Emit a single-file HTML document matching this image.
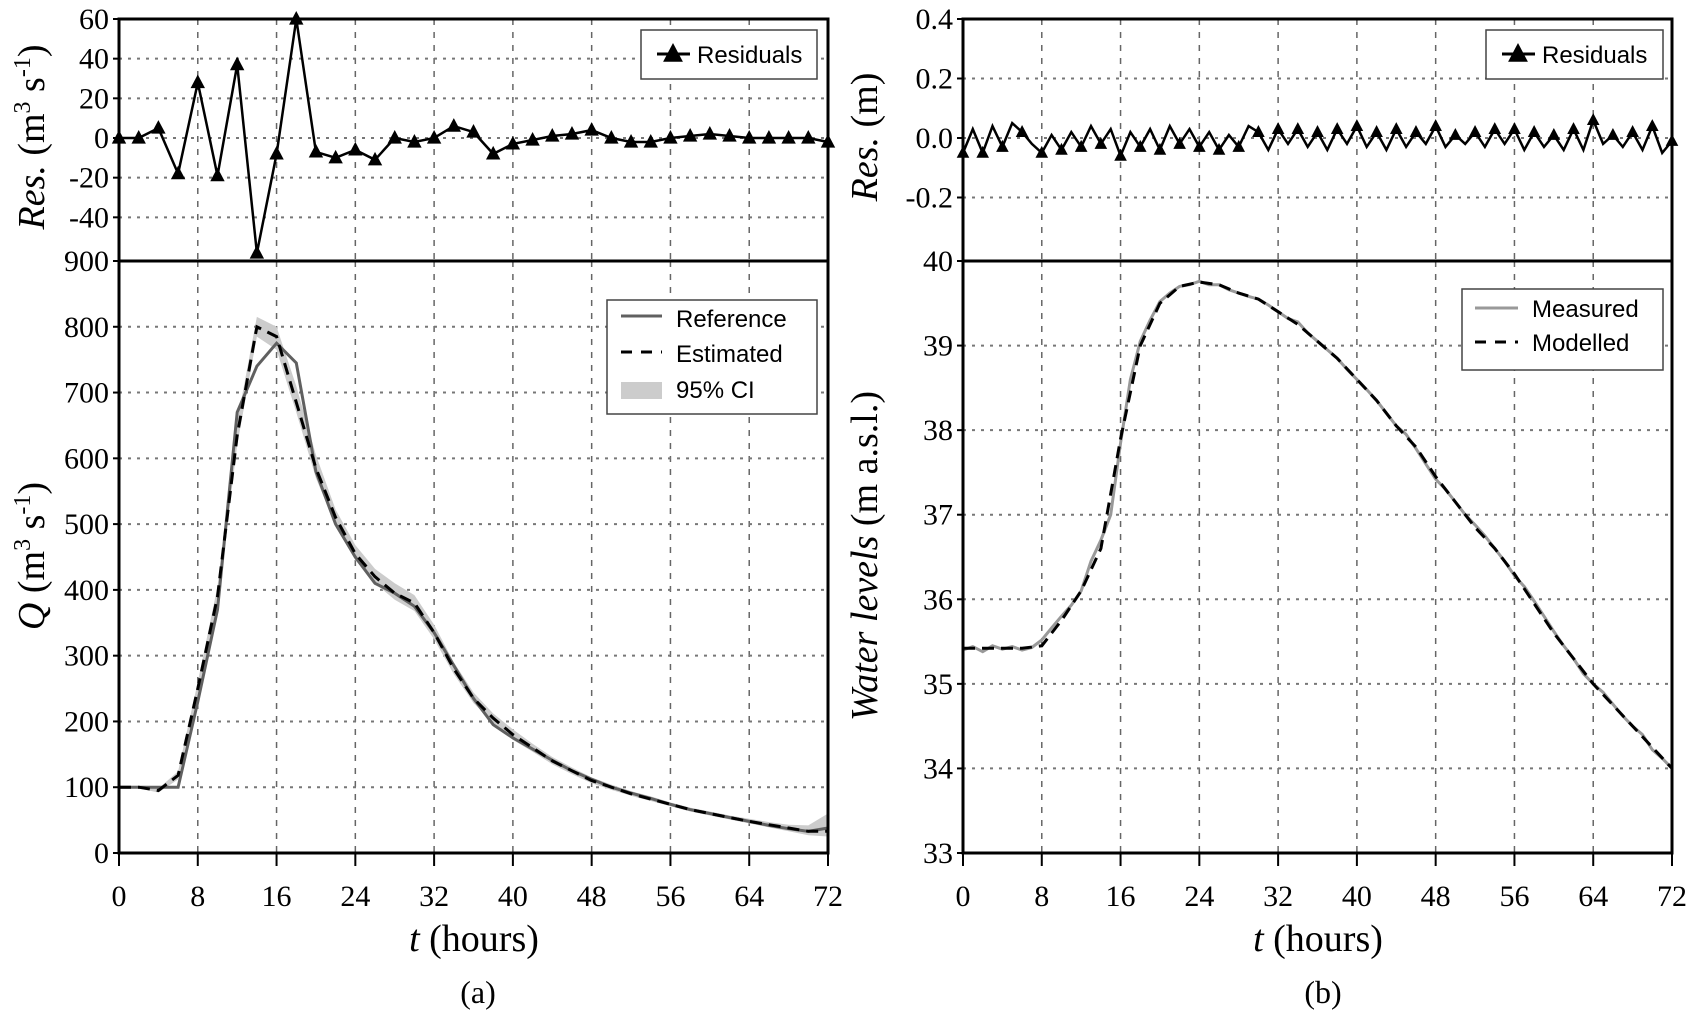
<!DOCTYPE html>
<html><head><meta charset="utf-8">
<style>
html,body{margin:0;padding:0;background:#fff;}
svg{display:block;}
text{font-family:"Liberation Serif",serif;}
.leg{font-family:"Liberation Sans",sans-serif;font-size:24px;}
</style></head>
<body>
<svg id="chart" width="1693" height="1021" viewBox="0 0 1693 1021" xmlns="http://www.w3.org/2000/svg"></svg>
<script>
// ---- Data ----
const tTicks = [0,8,16,24,32,40,48,56,64,72];
const resATicks = [60,40,20,0,-20,-40];
const qTicks = [0,100,200,300,400,500,600,700,800,900];
const resBTicks = [0.4,0.2,0.0,-0.2];
const resBTickLabels = ["0.4","0.2","0.0","-0.2"];
const wlTicks = [33,34,35,36,37,38,39,40];

const tA = [0,2,4,6,8,10,12,14,16,18,20,22,24,26,28,30,32,34,36,38,40,42,44,46,48,50,52,54,56,58,60,62,64,66,68,70,72];
const residualsA = [0,0,5,-18,28,-19,37,-58,-8,60,-7,-10,-6,-11,0,-2,0,6,3,-8,-3,-1,1,2,4,0,-2,-2,0,1,2,1,0,0,0,0,-2];
const referenceQ = [100,100,100,100,230,370,670,740,775,745,580,500,450,410,395,375,335,285,235,195,175,158,141,125,112,100,91,83,74,66,60,54,48,42,37,33,38];
const estimatedQ = [100,100,95,118,250,390,635,800,785,685,585,510,455,420,395,380,335,280,235,205,180,160,140,125,110,100,90,82,74,66,60,54,48,43,38,33,33];
const ciLow = [98,98,92,112,240,375,620,785,765,670,570,498,445,410,385,368,325,272,228,198,172,154,135,120,106,96,87,79,71,63,57,51,45,39,33,27,25];
const ciHigh = [102,102,98,124,260,405,655,815,800,710,605,522,468,432,410,392,347,290,244,212,188,166,146,130,115,104,94,86,77,69,63,57,52,47,43,42,60];

const tB = [0,1,2,3,4,5,6,7,8,9,10,11,12,13,14,15,16,17,18,19,20,21,22,23,24,25,26,27,28,29,30,31,32,33,34,35,36,37,38,39,40,41,42,43,44,45,46,47,48,49,50,51,52,53,54,55,56,57,58,59,60,61,62,63,64,65,66,67,68,69,70,71,72];
const residualsB = [-0.05,0.03,-0.05,0.04,-0.03,0.05,0.02,-0.02,-0.05,0.01,-0.04,0.02,-0.03,0.04,-0.02,0.03,-0.06,0.02,-0.03,0.03,-0.04,0.04,-0.02,0.03,-0.03,0.02,-0.04,0.01,-0.03,0.04,0.02,-0.04,0.03,-0.02,0.03,-0.03,0.02,-0.04,0.03,-0.02,0.04,-0.03,0.02,-0.04,0.03,-0.03,0.02,-0.02,0.04,-0.03,0.01,-0.02,0.02,-0.03,0.03,-0.02,0.03,-0.04,0.02,-0.03,0.01,-0.04,0.03,-0.04,0.06,-0.02,0.01,-0.03,0.02,-0.04,0.04,-0.05,-0.01];
const measuredWL = [35.40,35.44,35.38,35.45,35.41,35.44,35.40,35.43,35.52,35.66,35.80,35.93,36.10,36.45,36.70,37.00,37.85,38.60,39.05,39.30,39.52,39.62,39.70,39.72,39.76,39.72,39.72,39.66,39.62,39.58,39.55,39.48,39.40,39.32,39.28,39.15,39.05,38.95,38.85,38.72,38.60,38.48,38.35,38.20,38.05,37.95,37.78,37.60,37.42,37.30,37.15,37.00,36.88,36.75,36.60,36.45,36.28,36.15,35.98,35.80,35.62,35.45,35.30,35.12,35.00,34.90,34.76,34.62,34.50,34.40,34.22,34.12,34.00];
const modelledWL = [35.42,35.42,35.42,35.42,35.45,35.75,36.10,36.60,37.90,39.00,39.50,39.70,39.75,39.72,39.62,39.55,39.40,39.25,39.05,38.85,38.60,38.35,38.05,37.80,37.45,37.15,36.85,36.60,36.30,35.95,35.60,35.30,35.00,34.75,34.50,34.25,34.00];

// ---- helpers ----
const svg = document.getElementById('chart');
const NS = 'http://www.w3.org/2000/svg';
function mk(tag, attrs, parent){const e=document.createElementNS(NS,tag);for(const k in attrs)e.setAttribute(k,attrs[k]);(parent||svg).appendChild(e);return e;}
function lin(d0,d1,r0,r1){return v=>r0+(v-d0)*(r1-r0)/(d1-d0);}

const xA = lin(0,72,119,828), xB = lin(0,72,963,1672);
const yResA = lin(60,-60,19,257), yQ = lin(0,900,853,261);
const yResB = lin(0.4,-0.4,19,257), yWL = lin(33,40,853,261);

function grid(x, xl, xr, yTop, yBot, ySc, yt){
  tTicks.forEach(t=>{ if(t>0&&t<72){const l=mk('line',{x1:x(t),x2:x(t),y1:yTop,y2:yBot,stroke:'#666','stroke-width':1.5,'stroke-dasharray':'6,7'});
    
    }});
  yt.forEach(v=>{const y=ySc(v); if(y>yTop+2&&y<yBot-2){const l=mk('line',{x1:xl,x2:xr,y1:y,y2:y,stroke:'#777','stroke-width':2,'stroke-dasharray':'3,6'});
    
    }});
}
function frame(xl,xr,yt,yb,name){const r=mk('rect',{x:xl,y:yt,width:xr-xl,height:yb-yt,fill:'none',stroke:'#000','stroke-width':3});
  
  }
function yLabels(xl, ySc, vals, labels, name){
  vals.forEach((v,i)=>{const t=mk('text',{x:xl-10,y:ySc(v)+10,'text-anchor':'end','font-size':30});t.textContent=labels?labels[i]:String(v);
    
    
    const tk=mk('line',{x1:xl-6,x2:xl,y1:ySc(v),y2:ySc(v),stroke:'#000','stroke-width':2});
    
    });
}
function xLabels(x){
  tTicks.forEach(t=>{const tk=mk('line',{x1:x(t),x2:x(t),y1:853,y2:866,stroke:'#000','stroke-width':2});
    
    
    const l=mk('text',{x:x(t),y:906,'text-anchor':'middle','font-size':30});l.textContent=String(t);
    
    });
}
function path(xs,ys,xSc,ySc){return xs.map((v,i)=>(i?'L':'M')+xSc(v).toFixed(1)+','+ySc(ys[i]).toFixed(1)).join(' ');}
function tri(cx,cy,s,name){const p=mk('polygon',{points:`${cx},${cy-s} ${cx-s*0.9},${cy+s*0.7} ${cx+s*0.9},${cy+s*0.7}`,fill:'#000'});
  
  }

// ===== Panel (a) =====
grid(xA,119,828,19,261,yResA,resATicks);
grid(xA,119,828,261,853,yQ,qTicks);
yLabels(119,yResA,resATicks,null,'residual-a-tick-label');
yLabels(119,yQ,qTicks,null,'q-tick-label');
xLabels(xA);

// CI band
const ciD = tA.map((t,i)=>(i?'L':'M')+xA(t)+','+yQ(ciHigh[i])).join(' ')+' '+tA.slice().reverse().map((t,j)=>{const i=tA.length-1-j;return 'L'+xA(t)+','+yQ(ciLow[i]);}).join(' ')+'Z';
const ci=mk('path',{d:ciD,fill:'#ccc',stroke:'none'});


const refL=mk('path',{d:path(tA,referenceQ,xA,yQ),fill:'none',stroke:'#606060','stroke-width':3});


const estL=mk('path',{d:path(tA,estimatedQ,xA,yQ),fill:'none',stroke:'#000','stroke-width':3,'stroke-dasharray':'12,7'});



const resAL=mk('path',{d:path(tA,residualsA,xA,yResA),fill:'none',stroke:'#000','stroke-width':2.5});


tA.forEach((t,i)=>tri(xA(t),yResA(residualsA[i]),8,'residual-a-marker'));

frame(119,828,19,261,'residuals-a-frame');
frame(119,828,261,853,'discharge-frame');

// legends a
let g=mk('g',{});


mk('rect',{x:641,y:30,width:176,height:49,fill:'#fff',stroke:'#444','stroke-width':1.5},g);
mk('line',{x1:657,x2:690,y1:54,y2:54,stroke:'#000','stroke-width':3},g);
tri(673,54,11,'legend-triangle');
let tx=mk('text',{x:697,y:63,class:'leg'},g);tx.textContent='Residuals';

g=mk('g',{});


mk('rect',{x:607,y:300,width:210,height:114,fill:'#fff',stroke:'#444','stroke-width':1.5},g);
mk('line',{x1:621,x2:662,y1:316,y2:316,stroke:'#606060','stroke-width':3},g);
tx=mk('text',{x:676,y:327,class:'leg'},g);tx.textContent='Reference';
mk('line',{x1:621,x2:662,y1:352,y2:352,stroke:'#000','stroke-width':3,'stroke-dasharray':'11,9'},g);
tx=mk('text',{x:676,y:362,class:'leg'},g);tx.textContent='Estimated';
mk('rect',{x:621,y:382,width:41,height:17,fill:'#ccc'},g);
tx=mk('text',{x:676,y:398,class:'leg'},g);tx.textContent='95% CI';

// ===== Panel (b) =====
grid(xB,963,1672,19,261,yResB,resBTicks);
grid(xB,963,1672,261,853,yWL,wlTicks);
yLabels(963,yResB,resBTicks,resBTickLabels,'residual-b-tick-label');
yLabels(963,yWL,wlTicks,null,'water-level-tick-label');
xLabels(xB);

const measL=mk('path',{d:path(tB,measuredWL,xB,yWL),fill:'none',stroke:'#999','stroke-width':3});


const modL=mk('path',{d:path(tA,modelledWL,xB,yWL),fill:'none',stroke:'#000','stroke-width':3,'stroke-dasharray':'12,7'});



const resBL=mk('path',{d:path(tB,residualsB,xB,yResB),fill:'none',stroke:'#000','stroke-width':2.5});


tB.forEach((t,i)=>{ if(i%2===0) tri(xB(t),yResB(residualsB[i]),7,'residual-b-marker'); });

frame(963,1672,19,261,'residuals-b-frame');
frame(963,1672,261,853,'water-level-frame');

g=mk('g',{});


mk('rect',{x:1486,y:30,width:177,height:49,fill:'#fff',stroke:'#444','stroke-width':1.5},g);
mk('line',{x1:1502,x2:1535,y1:54,y2:54,stroke:'#000','stroke-width':3},g);
tri(1518,54,11,'legend-triangle');
tx=mk('text',{x:1542,y:63,class:'leg'},g);tx.textContent='Residuals';

g=mk('g',{});


mk('rect',{x:1462,y:289,width:201,height:81,fill:'#fff',stroke:'#444','stroke-width':1.5},g);
mk('line',{x1:1475,x2:1518,y1:308,y2:308,stroke:'#999','stroke-width':3},g);
tx=mk('text',{x:1532,y:317,class:'leg'},g);tx.textContent='Measured';
mk('line',{x1:1475,x2:1518,y1:342,y2:342,stroke:'#000','stroke-width':3,'stroke-dasharray':'11,9'},g);
tx=mk('text',{x:1532,y:351,class:'leg'},g);tx.textContent='Modelled';

// ===== Axis titles =====
function rotText(x,y,html,name){const t=mk('text',{x:0,y:0,transform:`translate(${x},${y}) rotate(-90)`,'text-anchor':'middle','font-size':38});t.innerHTML=html;
  
  }
rotText(44,137,'<tspan font-style="italic">Res.</tspan> (m<tspan font-size="24" dy="-14">3</tspan><tspan dy="14"> s</tspan><tspan font-size="24" dy="-14">-1</tspan><tspan dy="14">)</tspan>','residuals-a-axis-title');
rotText(44,556,'<tspan font-style="italic">Q</tspan> (m<tspan font-size="24" dy="-14">3</tspan><tspan dy="14"> s</tspan><tspan font-size="24" dy="-14">-1</tspan><tspan dy="14">)</tspan>','discharge-axis-title');
rotText(877,137,'<tspan font-style="italic">Res.</tspan> (m)','residuals-b-axis-title');
rotText(877,556,'<tspan font-style="italic">Water levels</tspan> (m a.s.l.)','water-level-axis-title');

function txt(x,y,html,size,name){const t=mk('text',{x:x,y:y,'text-anchor':'middle','font-size':size});t.innerHTML=html;
  
  }
txt(474,951,'<tspan font-style="italic">t</tspan> (hours)',38,'x-axis-title-a');
txt(1318,951,'<tspan font-style="italic">t</tspan> (hours)',38,'x-axis-title-b');
txt(478,1003,'(a)',32,'panel-label-a');
txt(1323,1003,'(b)',32,'panel-label-b');
</script>
</body></html>
